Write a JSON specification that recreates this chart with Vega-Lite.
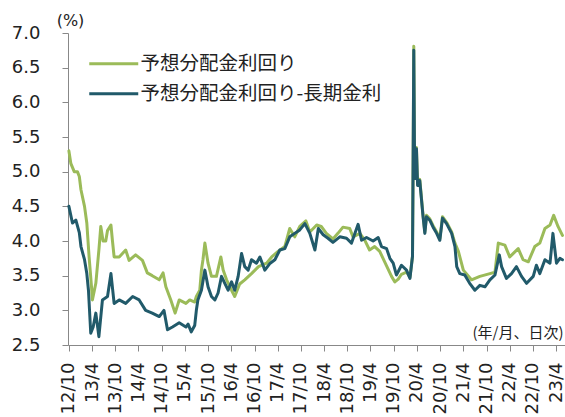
{
  "$schema": "https://vega.github.io/schema/vega-lite/v6.json",
  "width": 497,
  "height": 312,
  "autosize": {"type": "none"},
  "padding": {"left": 68, "top": 33, "right": 0, "bottom": 72},
  "background": "white",
  "config": {"view": {"stroke": null}},
  "data": {
    "values": [
      {"date": "2012-10-01", "s": "予想分配金利回り", "v": 5.30},
      {"date": "2012-10-16", "s": "予想分配金利回り", "v": 5.12},
      {"date": "2012-11-12", "s": "予想分配金利回り", "v": 5.00},
      {"date": "2012-12-07", "s": "予想分配金利回り", "v": 5.00},
      {"date": "2012-12-22", "s": "予想分配金利回り", "v": 4.93},
      {"date": "2013-01-04", "s": "予想分配金利回り", "v": 4.74},
      {"date": "2013-02-01", "s": "予想分配金利回り", "v": 4.50},
      {"date": "2013-02-19", "s": "予想分配金利回り", "v": 4.26},
      {"date": "2013-03-09", "s": "予想分配金利回り", "v": 3.77},
      {"date": "2013-03-28", "s": "予想分配金利回り", "v": 3.34},
      {"date": "2013-04-04", "s": "予想分配金利回り", "v": 3.15},
      {"date": "2013-05-01", "s": "予想分配金利回り", "v": 3.39},
      {"date": "2013-05-25", "s": "予想分配金利回り", "v": 3.87},
      {"date": "2013-06-09", "s": "予想分配金利回り", "v": 4.21},
      {"date": "2013-06-27", "s": "予想分配金利回り", "v": 4.00},
      {"date": "2013-07-18", "s": "予想分配金利回り", "v": 4.00},
      {"date": "2013-08-01", "s": "予想分配金利回り", "v": 4.15},
      {"date": "2013-08-28", "s": "予想分配金利回り", "v": 4.23},
      {"date": "2013-09-09", "s": "予想分配金利回り", "v": 4.00},
      {"date": "2013-09-22", "s": "予想分配金利回り", "v": 3.77},
      {"date": "2013-11-01", "s": "予想分配金利回り", "v": 3.77},
      {"date": "2013-12-22", "s": "予想分配金利回り", "v": 3.87},
      {"date": "2014-01-18", "s": "予想分配金利回り", "v": 3.72},
      {"date": "2014-03-10", "s": "予想分配金利回り", "v": 3.80},
      {"date": "2014-05-03", "s": "予想分配金利回り", "v": 3.72},
      {"date": "2014-06-10", "s": "予想分配金利回り", "v": 3.54},
      {"date": "2014-07-19", "s": "予想分配金利回り", "v": 3.50},
      {"date": "2014-09-12", "s": "予想分配金利回り", "v": 3.44},
      {"date": "2014-10-12", "s": "予想分配金利回り", "v": 3.54},
      {"date": "2014-11-03", "s": "予想分配金利回り", "v": 3.34},
      {"date": "2014-12-12", "s": "予想分配金利回り", "v": 3.15},
      {"date": "2015-01-15", "s": "予想分配金利回り", "v": 2.96},
      {"date": "2015-02-16", "s": "予想分配金利回り", "v": 3.15},
      {"date": "2015-04-10", "s": "予想分配金利回り", "v": 3.10},
      {"date": "2015-05-10", "s": "予想分配金利回り", "v": 3.15},
      {"date": "2015-06-18", "s": "予想分配金利回り", "v": 3.12},
      {"date": "2015-07-01", "s": "予想分配金利回り", "v": 3.20},
      {"date": "2015-07-28", "s": "予想分配金利回り", "v": 3.29},
      {"date": "2015-08-10", "s": "予想分配金利回り", "v": 3.58},
      {"date": "2015-08-22", "s": "予想分配金利回り", "v": 3.73},
      {"date": "2015-09-06", "s": "予想分配金利回り", "v": 3.97},
      {"date": "2015-10-01", "s": "予想分配金利回り", "v": 3.68},
      {"date": "2015-10-28", "s": "予想分配金利回り", "v": 3.49},
      {"date": "2015-12-06", "s": "予想分配金利回り", "v": 3.49},
      {"date": "2016-01-10", "s": "予想分配金利回り", "v": 3.77},
      {"date": "2016-01-28", "s": "予想分配金利回り", "v": 3.58},
      {"date": "2016-02-24", "s": "予想分配金利回り", "v": 3.44},
      {"date": "2016-04-03", "s": "予想分配金利回り", "v": 3.29},
      {"date": "2016-04-28", "s": "予想分配金利回り", "v": 3.20},
      {"date": "2016-06-06", "s": "予想分配金利回り", "v": 3.38},
      {"date": "2016-07-16", "s": "予想分配金利回り", "v": 3.44},
      {"date": "2016-09-07", "s": "予想分配金利回り", "v": 3.53},
      {"date": "2016-11-01", "s": "予想分配金利回り", "v": 3.63},
      {"date": "2017-01-04", "s": "予想分配金利回り", "v": 3.68},
      {"date": "2017-02-13", "s": "予想分配金利回り", "v": 3.77},
      {"date": "2017-04-04", "s": "予想分配金利回り", "v": 3.85},
      {"date": "2017-05-27", "s": "予想分配金利回り", "v": 3.92},
      {"date": "2017-07-05", "s": "予想分配金利回り", "v": 4.18},
      {"date": "2017-08-13", "s": "予想分配金利回り", "v": 4.06},
      {"date": "2017-09-22", "s": "予想分配金利回り", "v": 4.21},
      {"date": "2017-11-09", "s": "予想分配金利回り", "v": 4.29},
      {"date": "2017-12-10", "s": "予想分配金利回り", "v": 4.13},
      {"date": "2018-02-02", "s": "予想分配金利回り", "v": 4.23},
      {"date": "2018-03-10", "s": "予想分配金利回り", "v": 4.21},
      {"date": "2018-04-19", "s": "予想分配金利回り", "v": 4.11},
      {"date": "2018-06-10", "s": "予想分配金利回り", "v": 4.03},
      {"date": "2018-07-19", "s": "予想分配金利回り", "v": 4.11},
      {"date": "2018-08-28", "s": "予想分配金利回り", "v": 4.20},
      {"date": "2018-10-20", "s": "予想分配金利回り", "v": 4.18},
      {"date": "2018-11-15", "s": "予想分配金利回り", "v": 4.06},
      {"date": "2019-01-08", "s": "予想分配金利回り", "v": 4.11},
      {"date": "2019-02-16", "s": "予想分配金利回り", "v": 4.01},
      {"date": "2019-03-25", "s": "予想分配金利回り", "v": 3.87},
      {"date": "2019-05-04", "s": "予想分配金利回り", "v": 3.92},
      {"date": "2019-06-13", "s": "予想分配金利回り", "v": 3.85},
      {"date": "2019-07-22", "s": "予想分配金利回り", "v": 3.70},
      {"date": "2019-09-14", "s": "予想分配金利回り", "v": 3.49},
      {"date": "2019-10-10", "s": "予想分配金利回り", "v": 3.41},
      {"date": "2019-11-06", "s": "予想分配金利回り", "v": 3.45},
      {"date": "2019-12-01", "s": "予想分配金利回り", "v": 3.52},
      {"date": "2020-01-10", "s": "予想分配金利回り", "v": 3.55},
      {"date": "2020-02-06", "s": "予想分配金利回り", "v": 3.48},
      {"date": "2020-02-26", "s": "予想分配金利回り", "v": 3.78},
      {"date": "2020-03-02", "s": "予想分配金利回り", "v": 5.20},
      {"date": "2020-03-07", "s": "予想分配金利回り", "v": 6.81},
      {"date": "2020-03-12", "s": "予想分配金利回り", "v": 5.42},
      {"date": "2020-03-20", "s": "予想分配金利回り", "v": 4.92},
      {"date": "2020-03-28", "s": "予想分配金利回り", "v": 5.35},
      {"date": "2020-04-06", "s": "予想分配金利回り", "v": 4.82},
      {"date": "2020-04-23", "s": "予想分配金利回り", "v": 4.89},
      {"date": "2020-05-07", "s": "予想分配金利回り", "v": 4.61},
      {"date": "2020-05-19", "s": "予想分配金利回り", "v": 4.37},
      {"date": "2020-06-02", "s": "予想分配金利回り", "v": 4.13},
      {"date": "2020-06-15", "s": "予想分配金利回り", "v": 4.37},
      {"date": "2020-07-11", "s": "予想分配金利回り", "v": 4.32},
      {"date": "2020-08-06", "s": "予想分配金利回り", "v": 4.22},
      {"date": "2020-09-03", "s": "予想分配金利回り", "v": 4.13},
      {"date": "2020-09-28", "s": "予想分配金利回り", "v": 4.03},
      {"date": "2020-10-19", "s": "予想分配金利回り", "v": 4.35},
      {"date": "2020-11-20", "s": "予想分配金利回り", "v": 4.27},
      {"date": "2020-12-30", "s": "予想分配金利回り", "v": 4.13},
      {"date": "2021-01-25", "s": "予想分配金利回り", "v": 3.97},
      {"date": "2021-02-21", "s": "予想分配金利回り", "v": 3.85},
      {"date": "2021-04-01", "s": "予想分配金利回り", "v": 3.58},
      {"date": "2021-06-04", "s": "予想分配金利回り", "v": 3.44},
      {"date": "2021-08-09", "s": "予想分配金利回り", "v": 3.49},
      {"date": "2021-10-27", "s": "予想分配金利回り", "v": 3.53},
      {"date": "2021-12-06", "s": "予想分配金利回り", "v": 3.55},
      {"date": "2022-01-01", "s": "予想分配金利回り", "v": 3.97},
      {"date": "2022-02-22", "s": "予想分配金利回り", "v": 3.94},
      {"date": "2022-04-01", "s": "予想分配金利回り", "v": 3.77},
      {"date": "2022-06-07", "s": "予想分配金利回り", "v": 3.89},
      {"date": "2022-07-15", "s": "予想分配金利回り", "v": 3.73},
      {"date": "2022-08-25", "s": "予想分配金利回り", "v": 3.70},
      {"date": "2022-10-15", "s": "予想分配金利回り", "v": 3.92},
      {"date": "2022-11-24", "s": "予想分配金利回り", "v": 3.97},
      {"date": "2023-01-03", "s": "予想分配金利回り", "v": 4.18},
      {"date": "2023-02-12", "s": "予想分配金利回り", "v": 4.23},
      {"date": "2023-03-13", "s": "予想分配金利回り", "v": 4.37},
      {"date": "2023-04-16", "s": "予想分配金利回り", "v": 4.21},
      {"date": "2023-05-21", "s": "予想分配金利回り", "v": 4.08},
      {"date": "2012-10-01", "s": "予想分配金利回り-長期金利", "v": 4.50},
      {"date": "2012-10-29", "s": "予想分配金利回り-長期金利", "v": 4.26},
      {"date": "2012-11-25", "s": "予想分配金利回り-長期金利", "v": 4.30},
      {"date": "2012-12-22", "s": "予想分配金利回り-長期金利", "v": 4.12},
      {"date": "2013-01-04", "s": "予想分配金利回り-長期金利", "v": 3.92},
      {"date": "2013-02-01", "s": "予想分配金利回り-長期金利", "v": 3.73},
      {"date": "2013-02-19", "s": "予想分配金利回り-長期金利", "v": 3.53},
      {"date": "2013-03-04", "s": "予想分配金利回り-長期金利", "v": 3.29},
      {"date": "2013-03-22", "s": "予想分配金利回り-長期金利", "v": 2.67},
      {"date": "2013-04-10", "s": "予想分配金利回り-長期金利", "v": 2.76},
      {"date": "2013-05-01", "s": "予想分配金利回り-長期金利", "v": 2.96},
      {"date": "2013-05-25", "s": "予想分配金利回り-長期金利", "v": 2.62},
      {"date": "2013-06-22", "s": "予想分配金利回り-長期金利", "v": 3.15},
      {"date": "2013-08-01", "s": "予想分配金利回り-長期金利", "v": 3.20},
      {"date": "2013-08-28", "s": "予想分配金利回り-長期金利", "v": 3.53},
      {"date": "2013-09-22", "s": "予想分配金利回り-長期金利", "v": 3.10},
      {"date": "2013-11-01", "s": "予想分配金利回り-長期金利", "v": 3.15},
      {"date": "2013-12-22", "s": "予想分配金利回り-長期金利", "v": 3.10},
      {"date": "2014-02-15", "s": "予想分配金利回り-長期金利", "v": 3.20},
      {"date": "2014-04-07", "s": "予想分配金利回り-長期金利", "v": 3.15},
      {"date": "2014-05-28", "s": "予想分配金利回り-長期金利", "v": 3.00},
      {"date": "2014-07-19", "s": "予想分配金利回り-長期金利", "v": 2.96},
      {"date": "2014-09-12", "s": "予想分配金利回り-長期金利", "v": 2.91},
      {"date": "2014-10-19", "s": "予想分配金利回り-長期金利", "v": 3.00},
      {"date": "2014-11-16", "s": "予想分配金利回り-長期金利", "v": 2.72},
      {"date": "2014-12-25", "s": "予想分配金利回り-長期金利", "v": 2.76},
      {"date": "2015-02-16", "s": "予想分配金利回り-長期金利", "v": 2.82},
      {"date": "2015-04-10", "s": "予想分配金利回り-長期金利", "v": 2.76},
      {"date": "2015-04-27", "s": "予想分配金利回り-長期金利", "v": 2.80},
      {"date": "2015-05-22", "s": "予想分配金利回り-長期金利", "v": 2.69},
      {"date": "2015-06-18", "s": "予想分配金利回り-長期金利", "v": 2.78},
      {"date": "2015-07-01", "s": "予想分配金利回り-長期金利", "v": 3.00},
      {"date": "2015-07-13", "s": "予想分配金利回り-長期金利", "v": 3.15},
      {"date": "2015-08-10", "s": "予想分配金利回り-長期金利", "v": 3.29},
      {"date": "2015-09-06", "s": "予想分配金利回り-長期金利", "v": 3.58},
      {"date": "2015-10-01", "s": "予想分配金利回り-長期金利", "v": 3.34},
      {"date": "2015-10-28", "s": "予想分配金利回り-長期金利", "v": 3.20},
      {"date": "2015-11-24", "s": "予想分配金利回り-長期金利", "v": 3.15},
      {"date": "2015-12-19", "s": "予想分配金利回り-長期金利", "v": 3.25},
      {"date": "2016-01-15", "s": "予想分配金利回り-長期金利", "v": 3.49},
      {"date": "2016-02-10", "s": "予想分配金利回り-長期金利", "v": 3.39},
      {"date": "2016-03-07", "s": "予想分配金利回り-長期金利", "v": 3.29},
      {"date": "2016-04-03", "s": "予想分配金利回り-長期金利", "v": 3.41},
      {"date": "2016-04-28", "s": "予想分配金利回り-長期金利", "v": 3.29},
      {"date": "2016-05-25", "s": "予想分配金利回り-長期金利", "v": 3.49},
      {"date": "2016-06-21", "s": "予想分配金利回り-長期金利", "v": 3.82},
      {"date": "2016-07-16", "s": "予想分配金利回り-長期金利", "v": 3.63},
      {"date": "2016-08-12", "s": "予想分配金利回り-長期金利", "v": 3.58},
      {"date": "2016-09-07", "s": "予想分配金利回り-長期金利", "v": 3.73},
      {"date": "2016-10-16", "s": "予想分配金利回り-長期金利", "v": 3.68},
      {"date": "2016-11-12", "s": "予想分配金利回り-長期金利", "v": 3.77},
      {"date": "2016-12-21", "s": "予想分配金利回り-長期金利", "v": 3.58},
      {"date": "2017-02-01", "s": "予想分配金利回り-長期金利", "v": 3.68},
      {"date": "2017-03-10", "s": "予想分配金利回り-長期金利", "v": 3.73},
      {"date": "2017-04-18", "s": "予想分配金利回り-長期金利", "v": 3.87},
      {"date": "2017-05-27", "s": "予想分配金利回り-長期金利", "v": 3.89},
      {"date": "2017-07-05", "s": "予想分配金利回り-長期金利", "v": 4.06},
      {"date": "2017-08-13", "s": "予想分配金利回り-長期金利", "v": 4.11},
      {"date": "2017-09-22", "s": "予想分配金利回り-長期金利", "v": 4.16},
      {"date": "2017-11-01", "s": "予想分配金利回り-長期金利", "v": 4.25},
      {"date": "2017-12-10", "s": "予想分配金利回り-長期金利", "v": 4.11},
      {"date": "2018-01-19", "s": "予想分配金利回り-長期金利", "v": 3.87},
      {"date": "2018-02-15", "s": "予想分配金利回り-長期金利", "v": 4.18},
      {"date": "2018-03-25", "s": "予想分配金利回り-長期金利", "v": 4.09},
      {"date": "2018-05-02", "s": "予想分配金利回り-長期金利", "v": 4.04},
      {"date": "2018-06-10", "s": "予想分配金利回り-長期金利", "v": 3.98},
      {"date": "2018-08-03", "s": "予想分配金利回り-長期金利", "v": 4.06},
      {"date": "2018-09-25", "s": "予想分配金利回り-長期金利", "v": 4.04},
      {"date": "2018-11-03", "s": "予想分配金利回り-長期金利", "v": 3.97},
      {"date": "2018-12-25", "s": "予想分配金利回り-長期金利", "v": 4.24},
      {"date": "2019-01-21", "s": "予想分配金利回り-長期金利", "v": 4.01},
      {"date": "2019-03-01", "s": "予想分配金利回り-長期金利", "v": 4.05},
      {"date": "2019-04-22", "s": "予想分配金利回り-長期金利", "v": 4.00},
      {"date": "2019-06-01", "s": "予想分配金利回り-長期金利", "v": 4.05},
      {"date": "2019-06-27", "s": "予想分配金利回り-長期金利", "v": 3.92},
      {"date": "2019-08-06", "s": "予想分配金利回り-長期金利", "v": 3.89},
      {"date": "2019-09-01", "s": "予想分配金利回り-長期金利", "v": 3.75},
      {"date": "2019-09-27", "s": "予想分配金利回り-長期金利", "v": 3.68},
      {"date": "2019-10-22", "s": "予想分配金利回り-長期金利", "v": 3.51},
      {"date": "2019-11-06", "s": "予想分配金利回り-長期金利", "v": 3.56},
      {"date": "2019-12-01", "s": "予想分配金利回り-長期金利", "v": 3.65},
      {"date": "2020-01-10", "s": "予想分配金利回り-長期金利", "v": 3.58},
      {"date": "2020-02-06", "s": "予想分配金利回り-長期金利", "v": 3.46},
      {"date": "2020-02-26", "s": "予想分配金利回り-長期金利", "v": 3.78},
      {"date": "2020-03-02", "s": "予想分配金利回り-長期金利", "v": 5.20},
      {"date": "2020-03-07", "s": "予想分配金利回り-長期金利", "v": 6.75},
      {"date": "2020-03-12", "s": "予想分配金利回り-長期金利", "v": 5.40},
      {"date": "2020-03-20", "s": "予想分配金利回り-長期金利", "v": 4.90},
      {"date": "2020-03-28", "s": "予想分配金利回り-長期金利", "v": 5.33},
      {"date": "2020-04-06", "s": "予想分配金利回り-長期金利", "v": 4.80},
      {"date": "2020-04-23", "s": "予想分配金利回り-長期金利", "v": 4.87},
      {"date": "2020-05-07", "s": "予想分配金利回り-長期金利", "v": 4.59},
      {"date": "2020-05-19", "s": "予想分配金利回り-長期金利", "v": 4.35},
      {"date": "2020-06-02", "s": "予想分配金利回り-長期金利", "v": 4.11},
      {"date": "2020-06-15", "s": "予想分配金利回り-長期金利", "v": 4.35},
      {"date": "2020-07-11", "s": "予想分配金利回り-長期金利", "v": 4.30},
      {"date": "2020-08-06", "s": "予想分配金利回り-長期金利", "v": 4.20},
      {"date": "2020-09-03", "s": "予想分配金利回り-長期金利", "v": 4.11},
      {"date": "2020-09-28", "s": "予想分配金利回り-長期金利", "v": 4.01},
      {"date": "2020-10-19", "s": "予想分配金利回り-長期金利", "v": 4.33},
      {"date": "2020-11-20", "s": "予想分配金利回り-長期金利", "v": 4.25},
      {"date": "2020-12-30", "s": "予想分配金利回り-長期金利", "v": 4.11},
      {"date": "2021-01-25", "s": "予想分配金利回り-長期金利", "v": 3.92},
      {"date": "2021-02-08", "s": "予想分配金利回り-長期金利", "v": 3.63},
      {"date": "2021-03-04", "s": "予想分配金利回り-長期金利", "v": 3.53},
      {"date": "2021-04-12", "s": "予想分配金利回り-長期金利", "v": 3.51},
      {"date": "2021-05-21", "s": "予想分配金利回り-長期金利", "v": 3.39},
      {"date": "2021-07-01", "s": "予想分配金利回り-長期金利", "v": 3.29},
      {"date": "2021-08-09", "s": "予想分配金利回り-長期金利", "v": 3.36},
      {"date": "2021-09-18", "s": "予想分配金利回り-長期金利", "v": 3.34},
      {"date": "2021-10-27", "s": "予想分配金利回り-長期金利", "v": 3.44},
      {"date": "2021-12-06", "s": "予想分配金利回り-長期金利", "v": 3.51},
      {"date": "2022-01-09", "s": "予想分配金利回り-長期金利", "v": 3.80},
      {"date": "2022-01-27", "s": "予想分配金利回り-長期金利", "v": 3.63},
      {"date": "2022-03-06", "s": "予想分配金利回り-長期金利", "v": 3.46},
      {"date": "2022-04-15", "s": "予想分配金利回り-長期金利", "v": 3.53},
      {"date": "2022-05-24", "s": "予想分配金利回り-長期金利", "v": 3.63},
      {"date": "2022-07-03", "s": "予想分配金利回り-長期金利", "v": 3.49},
      {"date": "2022-08-12", "s": "予想分配金利回り-長期金利", "v": 3.39},
      {"date": "2022-10-03", "s": "予想分配金利回り-長期金利", "v": 3.49},
      {"date": "2022-10-28", "s": "予想分配金利回り-長期金利", "v": 3.65},
      {"date": "2022-11-24", "s": "予想分配金利回り-長期金利", "v": 3.53},
      {"date": "2023-01-03", "s": "予想分配金利回り-長期金利", "v": 3.73},
      {"date": "2023-02-12", "s": "予想分配金利回り-長期金利", "v": 3.68},
      {"date": "2023-03-07", "s": "予想分配金利回り-長期金利", "v": 4.11},
      {"date": "2023-04-04", "s": "予想分配金利回り-長期金利", "v": 3.68},
      {"date": "2023-05-01", "s": "予想分配金利回り-長期金利", "v": 3.75},
      {"date": "2023-05-21", "s": "予想分配金利回り-長期金利", "v": 3.73}
    ]
  },
  "mark": {"type": "line", "strokeWidth": 3, "strokeJoin": "round", "strokeCap": "round"},
  "encoding": {
    "x": {
      "field": "date",
      "type": "temporal",
      "scale": {
        "type": "utc",
        "domain": [
          {"year": 2012, "month": 9, "date": 24, "utc": true},
          {"year": 2023, "month": 6, "date": 10, "utc": true}
        ]
      },
      "axis": {
        "values": [
          {"year": 2012, "month": 10, "date": 1, "utc": true},
          {"year": 2013, "month": 4, "date": 1, "utc": true},
          {"year": 2013, "month": 10, "date": 1, "utc": true},
          {"year": 2014, "month": 4, "date": 1, "utc": true},
          {"year": 2014, "month": 10, "date": 1, "utc": true},
          {"year": 2015, "month": 4, "date": 1, "utc": true},
          {"year": 2015, "month": 10, "date": 1, "utc": true},
          {"year": 2016, "month": 4, "date": 1, "utc": true},
          {"year": 2016, "month": 10, "date": 1, "utc": true},
          {"year": 2017, "month": 4, "date": 1, "utc": true},
          {"year": 2017, "month": 10, "date": 1, "utc": true},
          {"year": 2018, "month": 4, "date": 1, "utc": true},
          {"year": 2018, "month": 10, "date": 1, "utc": true},
          {"year": 2019, "month": 4, "date": 1, "utc": true},
          {"year": 2019, "month": 10, "date": 1, "utc": true},
          {"year": 2020, "month": 4, "date": 1, "utc": true},
          {"year": 2020, "month": 10, "date": 1, "utc": true},
          {"year": 2021, "month": 4, "date": 1, "utc": true},
          {"year": 2021, "month": 10, "date": 1, "utc": true},
          {"year": 2022, "month": 4, "date": 1, "utc": true},
          {"year": 2022, "month": 10, "date": 1, "utc": true},
          {"year": 2023, "month": 4, "date": 1, "utc": true}
        ],
        "format": "%y/%-m",
        "labelAngle": -90,
        "labelFont": "DejaVu Sans",
        "labelFontSize": 18,
        "labelColor": "#222222",
        "labelPadding": 11,
        "labelOverlap": false,
        "labelFlush": false,
        "tickSize": 6,
        "tickColor": "#888888",
        "domainColor": "#888888",
        "grid": false,
        "title": "(年/月、日次)",
        "titleFont": "Noto Sans CJK JP",
        "titleFontSize": 15,
        "titleFontWeight": "normal",
        "titleColor": "#222222",
        "titleAlign": "right",
        "titleBaseline": "middle",
        "titleX": 495,
        "titleY": -13
      }
    },
    "y": {
      "field": "v",
      "type": "quantitative",
      "scale": {"domain": [2.5, 7.0], "nice": false, "zero": false},
      "axis": {
        "values": [2.5, 3.0, 3.5, 4.0, 4.5, 5.0, 5.5, 6.0, 6.5, 7.0],
        "format": ".1f",
        "labelFont": "DejaVu Sans",
        "labelFontSize": 18,
        "labelColor": "#222222",
        "labelPadding": 22,
        "tickSize": 6,
        "tickColor": "#888888",
        "domainColor": "#888888",
        "grid": false,
        "title": "(%)",
        "titleFont": "DejaVu Sans",
        "titleFontSize": 16,
        "titleFontWeight": "normal",
        "titleColor": "#222222",
        "titleAngle": 0,
        "titleAlign": "center",
        "titleBaseline": "middle",
        "titleX": 2,
        "titleY": -13
      }
    },
    "color": {
      "field": "s",
      "type": "nominal",
      "scale": {
        "domain": ["予想分配金利回り", "予想分配金利回り-長期金利"],
        "range": ["#9BBB59", "#215A6A"]
      },
      "legend": {
        "orient": "none",
        "legendX": 36,
        "legendY": 21,
        "title": null,
        "padding": 0,
        "symbolType": "M-4,0H4",
        "symbolSize": 150,
        "symbolStrokeWidth": 3,
        "labelFont": "Noto Sans CJK JP",
        "labelFontSize": 19.5,
        "labelColor": "#222222",
        "labelOffset": 17,
        "labelLimit": 400,
        "rowPadding": 9
      }
    }
  }
}
